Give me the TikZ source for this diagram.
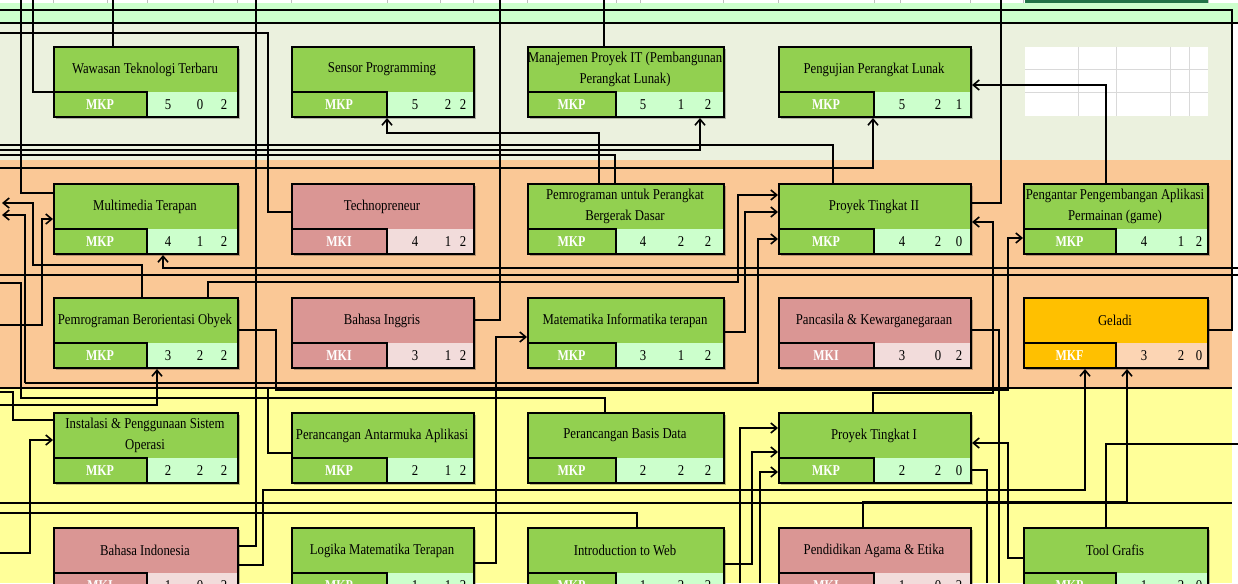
\documentclass[tikz,border=0pt]{standalone}
\usepackage{fontspec}
\setmainfont{Liberation Serif}
\newfontfamily\ttlfont{Liberation Serif}[FakeStretch=0.85]
\newfontfamily\catfont{Liberation Serif}[FakeStretch=0.8]
\usetikzlibrary{arrows.meta,calc}
\definecolor{cP}{HTML}{92D050}
\definecolor{cPn}{HTML}{CCFFCC}
\definecolor{cI}{HTML}{DA9694}
\definecolor{cIn}{HTML}{F2DCDB}
\definecolor{cF}{HTML}{FFC000}
\definecolor{cFn}{HTML}{FCD5B4}
\definecolor{bgTop}{HTML}{CCFFCC}
\definecolor{bgSem}{HTML}{EBF1DE}
\definecolor{bgPeach}{HTML}{FAC896}
\definecolor{bgYel}{HTML}{FFFF99}
\definecolor{hdrGreen}{HTML}{217346}
% column geometry: left, split, right, number positions
\expandafter\def\csname cbL1\endcsname{53}\expandafter\def\csname cbS1\endcsname{147}\expandafter\def\csname cbR1\endcsname{237}
\expandafter\def\csname cbA1\endcsname{168}\expandafter\def\csname cbB1\endcsname{200}\expandafter\def\csname cbC1\endcsname{224}
\expandafter\def\csname cbL2\endcsname{291}\expandafter\def\csname cbS2\endcsname{387}\expandafter\def\csname cbR2\endcsname{473}
\expandafter\def\csname cbA2\endcsname{415}\expandafter\def\csname cbB2\endcsname{448}\expandafter\def\csname cbC2\endcsname{463}
\expandafter\def\csname cbL3\endcsname{527}\expandafter\def\csname cbS3\endcsname{616}\expandafter\def\csname cbR3\endcsname{723}
\expandafter\def\csname cbA3\endcsname{643}\expandafter\def\csname cbB3\endcsname{681}\expandafter\def\csname cbC3\endcsname{708}
\expandafter\def\csname cbL4\endcsname{778}\expandafter\def\csname cbS4\endcsname{874}\expandafter\def\csname cbR4\endcsname{970}
\expandafter\def\csname cbA4\endcsname{902}\expandafter\def\csname cbB4\endcsname{938}\expandafter\def\csname cbC4\endcsname{959}
\expandafter\def\csname cbL5\endcsname{1023}\expandafter\def\csname cbS5\endcsname{1116}\expandafter\def\csname cbR5\endcsname{1207}
\expandafter\def\csname cbA5\endcsname{1144}\expandafter\def\csname cbB5\endcsname{1181}\expandafter\def\csname cbC5\endcsname{1199}
\tikzset{
  boxline/.style={line width=2pt,black},
  conn/.style={line width=2pt,black},
  arr/.style={conn,-{Straight Barb[length=6pt,width=10pt,line width=1.6pt]}},
  ttl/.style={font=\ttlfont\fontsize{15}{20.5}\selectfont,align=center,inner sep=0pt},
  catlab/.style={font=\catfont\fontsize{15}{15}\selectfont\bfseries,text=white,inner sep=0pt},
  numlab/.style={font=\ttlfont\fontsize{15}{15}\selectfont,inner sep=0pt},
}
% #1 name #2 column #3 top #4 title #5 category #6-#8 numbers #9 kind
\newcommand\course[9]{%
  \edef\cbL{\csname cbL#2\endcsname}\edef\cbS{\csname cbS#2\endcsname}\edef\cbR{\csname cbR#2\endcsname}%
  \edef\cbA{\csname cbA#2\endcsname}\edef\cbB{\csname cbB#2\endcsname}\edef\cbC{\csname cbC#2\endcsname}%
  \pgfmathsetmacro\cbW{\cbR-\cbL}%
  \fill[black,opacity=.25] (\cbL+3,#3+3) rectangle (\cbR+3,#3+73);
  \fill[c#9] (\cbL,#3) rectangle (\cbR,#3+46);
  \fill[c#9] (\cbL,#3+46) rectangle (\cbS,#3+70);
  \fill[c#9n] (\cbS,#3+46) rectangle (\cbR,#3+70);
  \draw[boxline] (\cbL,#3+46) -- (\cbS,#3+46) -- (\cbS,#3+70);
  \node[draw=black,line width=2pt,inner sep=0pt,minimum width=\cbW pt,minimum height=70pt,anchor=north west] (#1) at (\cbL,#3) {};
  \node[ttl] at ({(\cbL+\cbR)/2},#3+23.5) {#4};
  \node[catlab] at ({(\cbL+\cbS)/2},#3+58.5) {#5};
  \node[numlab] at (\cbA,#3+58.5) {#6};
  \node[numlab] at (\cbB,#3+58.5) {#7};
  \node[numlab] at (\cbC,#3+58.5) {#8};
}
\begin{document}
\begin{tikzpicture}[x=1pt,y=-1pt]
\useasboundingbox (0,0) rectangle (1238,583);
\clip (0,0) rectangle (1238,583);
% backgrounds
\fill[white] (0,0) rectangle (1238,583);
\fill[bgTop] (0,3) rectangle (1238,24);
\fill[bgSem] (0,24) rectangle (1232,160);
\fill[bgPeach] (0,160) rectangle (1232,388);
\fill[bgYel] (0,388) rectangle (1232,583);
\fill[hdrGreen] (1025,0) rectangle (1208,3);
\foreach \gx in {20,53,107,147,213,237,291,387,440,473,527,616,640,723,778,874,900,970,1023,1208}
  \draw[black!25,line width=0.6pt] (\gx,0) -- (\gx,3);
% white cell grid
\fill[white] (1025,47) rectangle (1208,116);
\foreach \gx in {1078,1116,1170,1189} \draw[black!15,line width=1pt] (\gx,47) -- (\gx,116);
\foreach \gy in {70,93} \draw[black!15,line width=1pt] (1025,\gy) -- (1208,\gy);
% horizontal rules
\draw[conn] (0,23) -- (1238,23);
\draw[conn] (0,275) -- (1238,275);
\draw[conn] (0,503) -- (1232,503);
\draw[conn] (0,388) -- (1232,388);

% courses
\course{wtt}{1}{46}{Wawasan Teknologi Terbaru}{MKP}{5}{0}{2}{P}
\course{sp}{2}{46}{Sensor Programming}{MKP}{5}{2}{2}{P}
\course{mpit}{3}{46}{Manajemen Proyek IT (Pembangunan\\Perangkat Lunak)}{MKP}{5}{1}{2}{P}
\course{ppl}{4}{46}{Pengujian Perangkat Lunak}{MKP}{5}{2}{1}{P}
\course{mt}{1}{183}{Multimedia Terapan}{MKP}{4}{1}{2}{P}
\course{tp}{2}{183}{Technopreneur}{MKI}{4}{1}{2}{I}
\course{ppb}{3}{183}{Pemrograman untuk Perangkat\\Bergerak Dasar}{MKP}{4}{2}{2}{P}
\course{pt2}{4}{183}{Proyek Tingkat II}{MKP}{4}{2}{0}{P}
\course{ppap}{5}{183}{Pengantar Pengembangan Aplikasi\\Permainan (game)}{MKP}{4}{1}{2}{P}
\course{pbo}{1}{297}{Pemrograman Berorientasi Obyek}{MKP}{3}{2}{2}{P}
\course{bing}{2}{297}{Bahasa Inggris}{MKI}{3}{1}{2}{I}
\course{mit}{3}{297}{Matematika Informatika terapan}{MKP}{3}{1}{2}{P}
\course{pkn}{4}{297}{Pancasila \& Kewarganegaraan}{MKI}{3}{0}{2}{I}
\course{gel}{5}{297}{Geladi}{MKF}{3}{2}{0}{F}
\course{ipso}{1}{412}{Instalasi \& Penggunaan Sistem\\Operasi}{MKP}{2}{2}{2}{P}
\course{paa}{2}{412}{Perancangan Antarmuka Aplikasi}{MKP}{2}{1}{2}{P}
\course{pbd}{3}{412}{Perancangan Basis Data}{MKP}{2}{2}{2}{P}
\course{pt1}{4}{412}{Proyek Tingkat I}{MKP}{2}{2}{0}{P}
\course{bind}{1}{527}{Bahasa Indonesia}{MKI}{1}{0}{2}{I}
\course{lmt}{2}{527}{Logika Matematika Terapan}{MKP}{1}{1}{2}{P}
\course{itw}{3}{527}{Introduction to Web}{MKP}{1}{2}{2}{P}
\course{pae}{4}{527}{Pendidikan Agama \& Etika}{MKI}{1}{0}{2}{I}
\course{tg}{5}{527}{Tool Grafis}{MKP}{1}{2}{0}{P}

% junction and edge points
\coordinate (jL) at (25,383);
% connectors
\draw[conn] (gel.east |- 0,330) -- (1232,330) -- (1232,10) -- (0,10);
\draw[conn] (21,0) -- (21,193) -- (mt.west |- 0,193);
\draw[conn] (33,0) -- (33,92) -- (wtt.west |- 0,92);
\draw[conn] (113,0) -- (113,0 |- wtt.north);
\draw[conn] (0,33) -- (268,33) -- (268,212) -- (tp.west |- 0,212);
\draw[conn] (bind.east |- 0,546) -- (256,546) -- (256,0);
\draw[conn] (bing.east |- 0,320) -- (500,320) -- (500,0);
\draw[conn] (604,0) -- (604,0 |- mpit.north);
\draw[arr] (599,0 |- ppb.north) -- (599,133) -- (387,133) -- (387,0 |- sp.south);
\draw[arr] (0,150) -- (700,150) -- (700,0 |- mpit.south);
\draw[conn] (0,155) -- (615,155) -- (615,0 |- ppb.north);
\draw[arr] (0,168) -- (873,168) -- (873,0 |- ppl.south);
\draw[conn] (0,145) -- (833,145) -- (833,0 |- pt2.north);
\draw[conn] (pt2.east |- 0,203) -- (1001,203) -- (1001,0);
\draw[arr] (1106,0 |- ppap.north) -- (1106,85) -- (ppl.east |- 0,85);
\draw[arr] (873,0 |- pt1.north) -- (873,393) -- (993,393) -- (993,222) -- (pt2.east |- 0,222);
\draw[arr] (pbo.east |- 0,330) -- (276,330) -- (276,390) -- (1008,390) -- (1008,238) -- (ppap.west |- 0,238);
\draw[conn] (pkn.east |- 0,330) -- (999,330) -- (999,583);
\draw[arr] (bind.east |- 0,565) -- (263,565) -- (263,490) -- (1085,490) -- (1085,0 |- gel.south);
\draw[arr] (863,0 |- pae.north) -- (863,502) -- (1127,502) -- (1127,0 |- gel.south);
\draw[conn] (1106,0 |- tg.north) -- (1106,444) -- (1238,444);
\draw[arr] (tg.west |- 0,558) -- (1008,558) -- (1008,443) -- (pt1.east |- 0,443);
\draw[conn] (pt1.east |- 0,470) -- (987,470) -- (987,583);
\draw[arr] (jL) -- (758,383) -- (758,239) -- (pt2.west |- 0,239);
\draw[arr] (jL) -- (25,215) -- (2,215);
\draw[arr] (208,0 |- pbo.north) -- (208,282) -- (738,282) -- (738,195) -- (pt2.west |- 0,195);
\draw[arr] (mit.east |- 0,332) -- (745,332) -- (745,212) -- (pt2.west |- 0,212);
\draw[arr] (740,583) -- (740,428) -- (pt1.west |- 0,428);
\draw[arr] (itw.east |- 0,564) -- (752,564) -- (752,452) -- (pt1.west |- 0,452);
\draw[arr] (760,583) -- (760,472) -- (pt1.west |- 0,472);
\draw[arr] (lmt.east |- 0,563) -- (496,563) -- (496,337) -- (mit.west |- 0,337);
\draw[conn] (605,0 |- pbd.north) -- (605,398) -- (21,398) -- (21,283) -- (0,283);
\draw[conn] (0,513) -- (637,513) -- (637,0 |- itw.north);
\draw[arr] (0,553) -- (30,553) -- (30,440) -- (ipso.west |- 0,440);
\draw[arr] (1238,268) -- (163,268) -- (163,0 |- mt.south);
\draw[arr] (142,0 |- pbo.north) -- (142,265) -- (33,265) -- (33,203) -- (2,203);
\draw[arr] (0,325) -- (42,325) -- (42,219) -- (mt.west |- 0,219);
\draw[conn] (paa.west |- 0,453) -- (268,453) -- (268,387);
\draw[arr] (0,405) -- (157,405) -- (157,0 |- pbo.south);
\draw[conn] (ipso.west |- 0,420) -- (13,420) -- (13,392) -- (0,392);
\end{tikzpicture}
\end{document}
